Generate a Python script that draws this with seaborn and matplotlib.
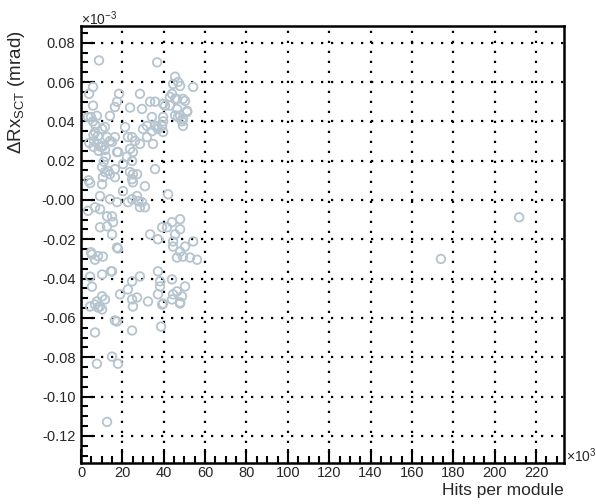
import matplotlib
matplotlib.use("Agg")
import matplotlib.pyplot as plt
import seaborn as sns
from matplotlib.ticker import MultipleLocator

# hits per module (x10^3) and delta Rx SCT (x10^-3 mrad)
hits = [
    8.7, 36.8, 5.8, 3.9, 5.8, 4.8, 5.8, 7.7, 6.8, 8.2, 10.2, 11.6, 12.6, 10.6, 15.0, 14.0,
    16.4, 17.4, 18.4, 17.4, 21.3, 24.7, 23.7, 28.5, 29.5, 25.1, 22.2, 31.9, 34.3, 34.3, 34.8,
    33.4, 35.8, 35.8, 37.2, 39.7, 40.6, 39.7, 43.0, 44.5, 45.5, 46.9, 47.9, 45.5, 47.9, 49.3,
    51.3, 50.3, 46.4, 43.0, 54.2, 49.3, 44.0,
    45.5, 49.3, 39.7, 46.4, 51.3, 36.8, 39.2, 39.7, 46.9, 48.8, 31.9, 30.0,
    3.4, 7.0, 4.0, 6.0, 8.5, 12.0,
    6.3, 8.2, 9.7, 11.6, 14.0, 16.4, 22.7, 26.1, 28.5, 23.7, 17.9,
    4.4, 10.2, 10.6, 10.2, 11.6, 13.1, 14.0, 16.4, 16.4, 20.3, 24.7, 23.7, 25.1, 27.1, 24.7,
    25.1, 30.9, 35.8, 20.3, 17.4, 14.0, 27.1, 27.6, 29.5, 28.5, 30.9, 22.7, 24.7, 42.1,
    6.8, 9.2, 12.6, 15.0, 15.5, 9.2, 12.6, 15.0, 33.4, 37.2, 39.2, 41.6, 44.0, 47.9, 45.5,
    47.9, 44.5, 44.5, 50.3, 54.2, 47.9, 46.4, 49.3, 52.7, 56.1, 5.3, 6.8, 10.6, 17.4, 17.9,
    4.4, 5.3, 10.2, 15.0, 18.9, 22.7, 24.7, 28.5, 37.2, 38.2, 38.2, 44.0, 37.2, 24.7, 27.1,
    32.4, 39.2, 44.5, 46.4, 48.8, 50.3, 47.9, 44.0, 10.2, 11.6, 7.7, 9.2,
    6.8, 8.2, 10.2, 4.4, 25.1, 39.7, 47.9, 16.4, 17.4, 6.8, 24.7, 38.7, 7.7, 15.0, 17.9, 12.6,
    4.8, 8.2, 14.5, 3.4, 9.2, 11.0, 6.0, 3.7,
    174.0, 211.8,
]
drx = [
    0.071, 0.070, 0.0575, 0.054, 0.048, 0.0422, 0.040, 0.0428, 0.0346, 0.0326, 0.0361, 0.0371,
    0.032, 0.0274, 0.0295, 0.0428, 0.0473, 0.050, 0.054, 0.0244, 0.0371, 0.032, 0.047, 0.054,
    0.0463, 0.0244, 0.022, 0.032, 0.035, 0.0422, 0.0285, 0.050, 0.050, 0.0377, 0.0361, 0.040,
    0.0479, 0.0346, 0.0525, 0.059, 0.0627, 0.060, 0.058, 0.043, 0.043, 0.041, 0.0448, 0.0504,
    0.0514, 0.048, 0.0575, 0.0377, 0.054,
    0.0514, 0.0514, 0.0489, 0.0463, 0.0453, 0.0371, 0.0377, 0.0422, 0.0422, 0.040, 0.0377, 0.0361,
    0.0422, 0.038, 0.029, 0.027, 0.025, 0.022,
    0.030, 0.0285, 0.027, 0.0255, 0.030, 0.032, 0.032, 0.030, 0.0285, 0.026, 0.0244,
    0.0086, 0.008, 0.0116, 0.0168, 0.0142, 0.0147, 0.0131, 0.0157, 0.0116, 0.0183, 0.0198,
    0.0142, 0.0131, 0.0131, 0.0106, 0.009, 0.007, 0.0157, 0.0045, -0.0011, 0.0004, 0.002,
    -0.0006, -0.0011, -0.0037, -0.0037, -0.0011, 0.0004, 0.0029,
    -0.0037, -0.0047, -0.0083, -0.0083, -0.0113, -0.0139, -0.0134, -0.0175, -0.0175, -0.020,
    -0.0139, -0.0139, -0.0113, -0.0098, -0.0175, -0.0149, -0.0211, -0.0237, -0.0237, -0.0211,
    -0.0263, -0.0293, -0.0288, -0.0293, -0.0304, -0.0277, -0.0304, -0.0288, -0.0242, -0.0247,
    -0.039, -0.0441, -0.0379, -0.0363, -0.048, -0.0455, -0.0414, -0.0389, -0.0363, -0.0414,
    -0.044, -0.0404, -0.048, -0.0506, -0.0496, -0.0516, -0.0532, -0.048, -0.0465, -0.049,
    -0.044, -0.0521, -0.0506, -0.049, -0.0506, -0.0516, -0.0542,
    -0.0532, -0.0547, -0.0557, -0.0542, -0.0542, -0.0527, -0.0527, -0.0613, -0.0618, -0.0674,
    -0.0664, -0.0644, -0.0833, -0.0797, -0.0833, -0.1129,
    -0.0266, -0.0285, -0.0363, -0.0055, 0.0020, 0.0195, 0.0330, 0.0100,
    -0.030, -0.0088,
]

x_ticks = [0, 20, 40, 60, 80, 100, 120, 140, 160, 180, 200, 220]
y_ticks = [0.08, 0.06, 0.04, 0.02, 0.0, -0.02, -0.04, -0.06, -0.08, -0.10, -0.12]
y_tick_labels = ["0.08", "0.06", "0.04", "0.02", "-0.00", "-0.02", "-0.04",
                 "-0.06", "-0.08", "-0.10", "-0.12"]

sns.set_style("white")
plt.rcParams["font.family"] = ["Liberation Sans", "DejaVu Sans"]
plt.rcParams["mathtext.fontset"] = "custom"
plt.rcParams["mathtext.rm"] = "Liberation Sans"
plt.rcParams["mathtext.it"] = "Liberation Sans:italic"

fig = plt.figure(figsize=(5.96, 5.04), dpi=100)
ax = fig.add_axes([81 / 596, 1 - 463 / 504, (564 - 81) / 596, (463 - 26) / 504])

sns.scatterplot(x=hits, y=drx, ax=ax, marker="o", s=38, facecolor="none",
                edgecolor="#b5c4ce", linewidth=1.3, zorder=3)

ax.set_xlim(0, 233.5)
ax.set_ylim(-0.1338, 0.0885)
ax.set_xticks(x_ticks)
ax.set_xticklabels([str(t) for t in x_ticks])
ax.set_yticks(y_ticks)
ax.set_yticklabels(y_tick_labels)
ax.xaxis.set_minor_locator(MultipleLocator(5))
ax.yaxis.set_minor_locator(MultipleLocator(0.005))
ax.tick_params(which="both", direction="in", bottom=True, left=True, top=False, right=False,
               labelsize=10.5, color="black", width=1.5)
ax.tick_params(which="major", length=10)
ax.tick_params(which="minor", length=5)
ax.tick_params(axis="x", which="major", pad=2)
ax.tick_params(axis="y", which="major", pad=4)
ax.grid(True, which="major", color="black", linestyle=(0, (1, 3.5)), linewidth=1.6)
for sp in ax.spines.values():
    sp.set_visible(True)
    sp.set_color("black")
    sp.set_linewidth(1.8)
ax.set_xlabel("")
ax.set_ylabel("")

fig.text(0.028, 1 - 30 / 504, r"$\Delta$Rx$_{\mathrm{SCT}}$ (mrad)", rotation=90,
         ha="center", va="top", fontsize=13.5)
fig.text(564 / 596, 1 - 490 / 504, "Hits per module", ha="right", va="center", fontsize=12.5)
fig.text(81 / 596, 1 - 19 / 504, r"×10$^{-3}$", ha="left", va="center", fontsize=10)
fig.text(566 / 596, 1 - 456 / 504, r"×10$^{3}$", ha="left", va="center", fontsize=10)

fig.savefig("out.png", dpi=100)
